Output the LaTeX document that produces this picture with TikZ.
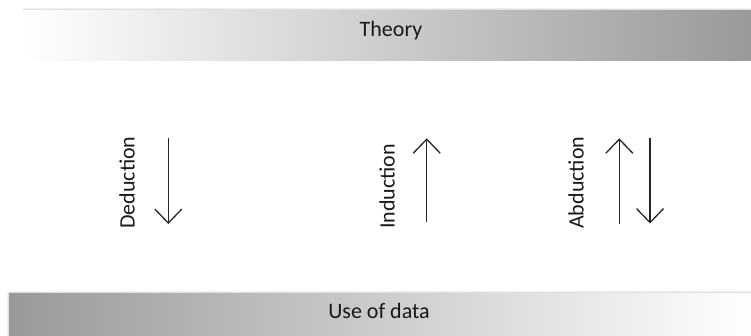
\documentclass[tikz,border=0pt]{standalone}
\usepackage{fontspec}
\setmainfont{Carlito}
\usetikzlibrary{arrows.meta}
\begin{document}
\begin{tikzpicture}[x=1pt,y=-1pt,
  lbl/.style={inner sep=0pt,font=\fontsize{22}{26}\selectfont,text=black!90},
  vlbl/.style={lbl,rotate=90,anchor=base west},
  bar/.style={draw=none,inner sep=0pt,minimum height=50pt},
  arr/.style={line width=1.3pt,draw=black!85,-{Straight Barb[length=14pt,width=27pt,line width=1.3pt]}},
  shd/.style={line width=1pt}]
\useasboundingbox (0,0) rectangle (751,336);
\fill[white] (0,0) rectangle (751,336);
% shadows
\draw[shd,black,opacity=0.12] (23,9.5) -- (751,9.5);
\draw[shd,black,opacity=0.06] (23,8.5) -- (751,8.5);
\draw[shd,black,opacity=0.12] (9,292.5) -- (751,292.5);
\draw[shd,black,opacity=0.06] (9,291.5) -- (751,291.5);
\draw[shd,black,opacity=0.12] (8.5,293) -- (8.5,336);
\draw[shd,black,opacity=0.06] (7.5,293) -- (7.5,336);
% bars
\node[bar,minimum width=728pt,left color=white,right color=black!40,anchor=north west] (topbar) at (23,10) {};
\node[bar,minimum width=742pt,left color=black!40,right color=white,anchor=north west] (botbar) at (9,293) {};
\node[lbl,anchor=base] (theory) at (391,37) {Theory};
\node[lbl,anchor=base] (data) at (379,318) {Use of data};
% labels
\node[vlbl] (ded) at (134.5,229) {Deduction};
\node[vlbl] (ind) at (394.5,229) {Induction};
\node[vlbl] (abd) at (583.5,229) {Abduction};
% arrows
\coordinate (d1) at (168.3,138.3);
\coordinate (d2) at (168.3,224);
\coordinate (i1) at (426.7,222.5);
\coordinate (i2) at (426.7,138.3);
\coordinate (a1) at (619.3,224);
\coordinate (a2) at (619.3,138.3);
\coordinate (b1) at (650,138.3);
\coordinate (b2) at (650,223.5);
\draw[arr] (d1) -- (d2);
\draw[arr] (i1) -- (i2);
\draw[arr] (a1) -- (a2);
\draw[arr] (b1) -- (b2);
\end{tikzpicture}
\end{document}
